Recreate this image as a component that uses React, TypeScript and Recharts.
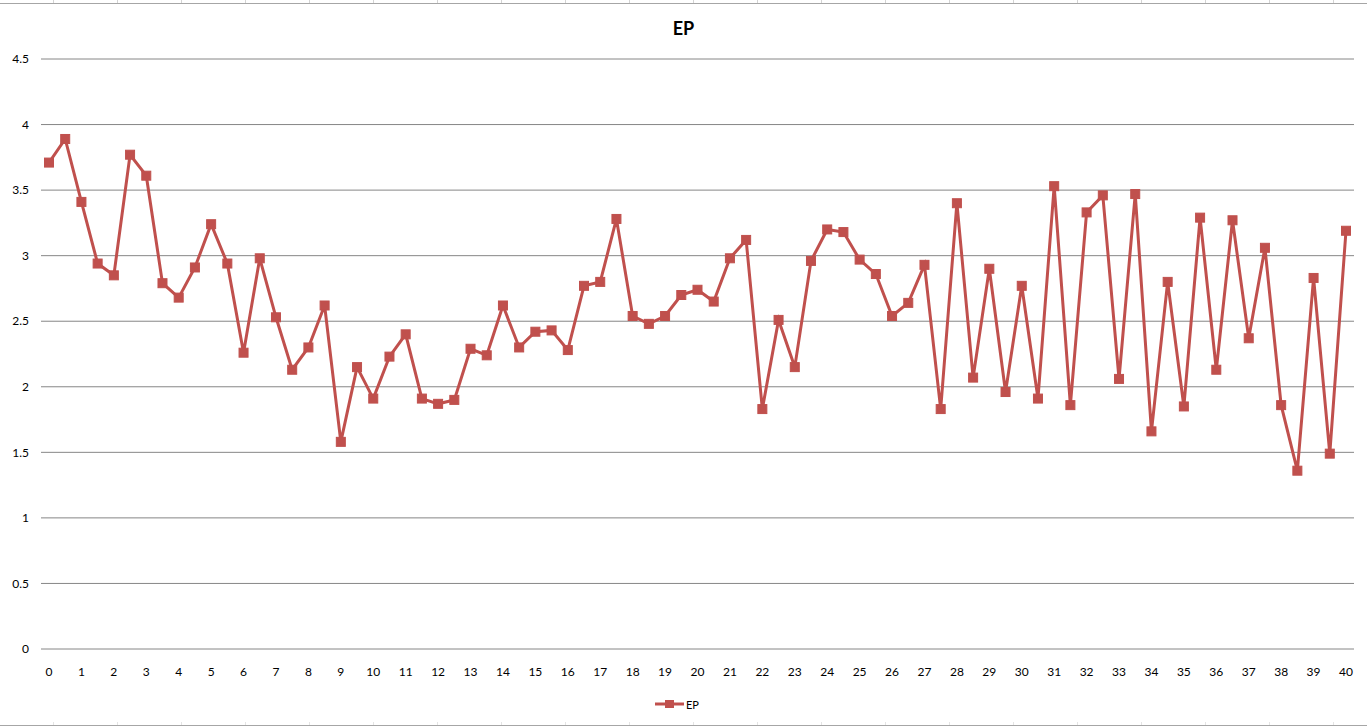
import React from 'react';
import { LineChart, Line, XAxis, YAxis, CartesianGrid, Legend } from 'recharts';

// x positions (every half step) and the EP readings
const xValues = [
  0, 0.5, 1, 1.5, 2, 2.5, 3, 3.5, 4, 4.5, 5, 5.5, 6, 6.5, 7, 7.5, 8, 8.5, 9, 9.5,
  10, 10.5, 11, 11.5, 12, 12.5, 13, 13.5, 14, 14.5, 15, 15.5, 16, 16.5, 17, 17.5, 18, 18.5, 19, 19.5,
  20, 20.5, 21, 21.5, 22, 22.5, 23, 23.5, 24, 24.5, 25, 25.5, 26, 26.5, 27, 27.5, 28, 28.5, 29, 29.5,
  30, 30.5, 31, 31.5, 32, 32.5, 33, 33.5, 34, 34.5, 35, 35.5, 36, 36.5, 37, 37.5, 38, 38.5, 39, 39.5, 40,
];

const epValues = [
  3.71, 3.89, 3.41, 2.94, 2.85, 3.77, 3.61, 2.79, 2.68, 2.91, 3.24, 2.94, 2.26, 2.98, 2.53, 2.13, 2.30, 2.62, 1.58, 2.15,
  1.91, 2.23, 2.40, 1.91, 1.87, 1.90, 2.29, 2.24, 2.62, 2.30, 2.42, 2.43, 2.28, 2.77, 2.80, 3.28, 2.54, 2.48, 2.54, 2.70,
  2.74, 2.65, 2.98, 3.12, 1.83, 2.51, 2.15, 2.96, 3.20, 3.18, 2.97, 2.86, 2.54, 2.64, 2.93, 1.83, 3.40, 2.07, 2.90, 1.96,
  2.77, 1.91, 3.53, 1.86, 3.33, 3.46, 2.06, 3.47, 1.66, 2.80, 1.85, 3.29, 2.13, 3.27, 2.37, 3.06, 1.86, 1.36, 2.83, 1.49, 3.19,
];

const xTicks = [
  0, 1, 2, 3, 4, 5, 6, 7, 8, 9, 10, 11, 12, 13, 14, 15, 16, 17, 18, 19, 20,
  21, 22, 23, 24, 25, 26, 27, 28, 29, 30, 31, 32, 33, 34, 35, 36, 37, 38, 39, 40,
];
const yTicks = [0, 0.5, 1, 1.5, 2, 2.5, 3, 3.5, 4, 4.5];

const data = xValues.map((x, i) => ({ x, EP: epValues[i] }));

const RED = '#C0504D';
const GRID = '#868686';
const FONT = 'Lato, Carlito, Calibri, sans-serif';

const SquareDot = (props: any) => {
  const { cx, cy } = props;
  if (cx == null || cy == null) return null;
  return <rect x={cx - 4.5} y={cy - 4.5} width={9} height={9} fill={RED} stroke={RED} strokeWidth={1} />;
};

const LegendContent = () => (
  <div style={{ height: 20, display: 'flex', justifyContent: 'center', alignItems: 'center', fontFamily: FONT, fontSize: 11, color: '#000' }}>
    <svg width={30} height={12} style={{ marginRight: 1 }}>
      <line x1={0} y1={6} x2={29} y2={6} stroke={RED} strokeWidth={3} />
      <rect x={10} y={2} width={9} height={8} fill={RED} />
    </svg>
    <span>EP</span>
  </div>
);

// spreadsheet cell borders peeking around the chart object
const cellLines = [53, 117, 181, 245, 309, 373, 437, 501, 565, 629, 693, 757, 821, 885, 949, 1013, 1077, 1141, 1205, 1269, 1333];

export default function App() {
  return (
    <div style={{ position: 'absolute', left: 0, top: 0, width: 1367, height: 727, background: '#fff', overflow: 'hidden' }}>
      <div style={{ position: 'absolute', left: 0, top: 3, width: 1367, height: 1, background: '#a6a6a6' }} />
      <div style={{ position: 'absolute', left: 0, top: 725, width: 1367, height: 1, background: '#a6a6a6' }} />
      {cellLines.map((x) => (
        <React.Fragment key={x}>
          <div style={{ position: 'absolute', left: x, top: 0, width: 1, height: 3, background: '#d4d4d4' }} />
          <div style={{ position: 'absolute', left: x, top: 722, width: 1, height: 3, background: '#e4e4e4' }} />
        </React.Fragment>
      ))}
      <div style={{ position: 'absolute', left: 0, top: 17, width: 1367, textAlign: 'center', fontFamily: FONT, fontWeight: 700, fontSize: 18, color: '#000' }}>
        EP
      </div>
      <div style={{ position: 'absolute', left: 0, top: 0 }}>
        <LineChart width={1367} height={727} data={data} margin={{ top: 59, right: 13, left: 0, bottom: 13 }}>
          <CartesianGrid stroke={GRID} vertical={false} />
          <XAxis
            dataKey="x"
            type="number"
            domain={[0, 40]}
            ticks={xTicks}
            interval={0}
            padding={{ left: 8, right: 8 }}
            axisLine={false}
            tickLine={false}
            tickMargin={12}
            height={45}
            tick={{ fill: '#000', fontSize: 12, fontFamily: FONT }}
          />
          <YAxis
            type="number"
            domain={[0, 4.5]}
            ticks={yTicks}
            interval={0}
            width={41}
            axisLine={false}
            tickLine={false}
            tickMargin={6}
            tick={{ fill: '#000', fontSize: 12, fontFamily: FONT }}
          />
          <Legend verticalAlign="bottom" align="center" content={<LegendContent />} />
          <Line
            type="linear"
            dataKey="EP"
            stroke={RED}
            strokeWidth={3}
            dot={<SquareDot />}
            activeDot={false}
            isAnimationActive={false}
          />
        </LineChart>
      </div>
    </div>
  );
}
